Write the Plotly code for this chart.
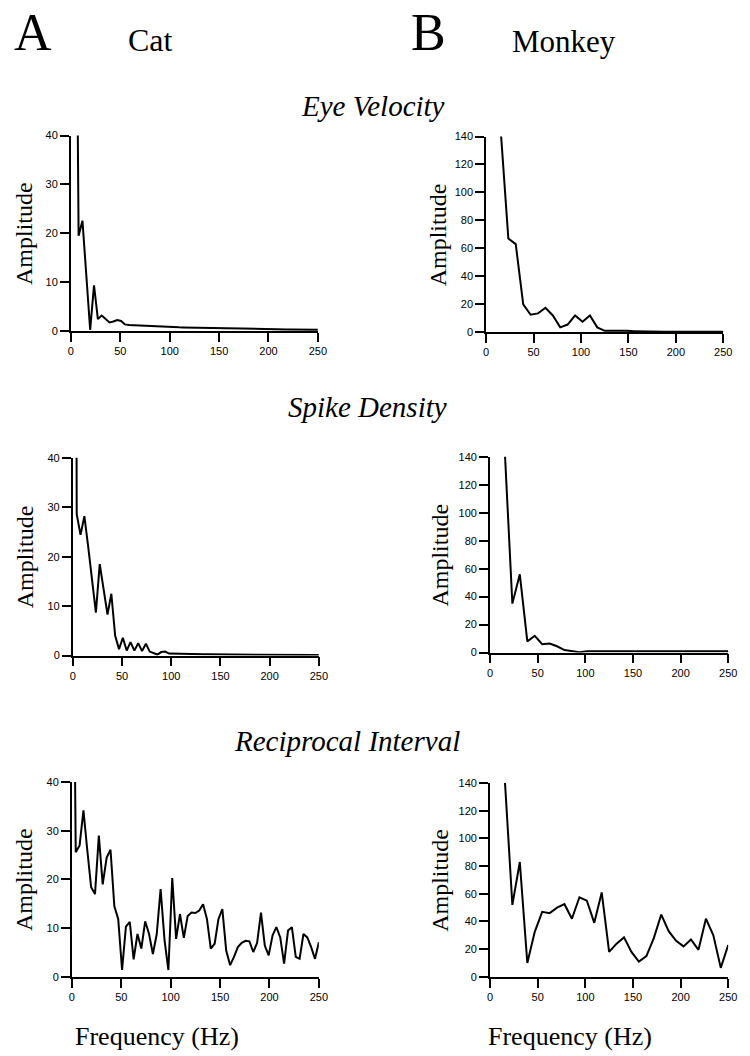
import plotly.graph_objects as go

W, H = 750, 1056

# ---------------- data ----------------
CAT_FREQ = [0.0, 3.9, 7.8, 11.7, 15.6, 19.5, 23.4, 27.3, 31.2, 35.2, 39.1, 43.0, 46.9, 50.8,
            54.7, 58.6, 62.5, 66.4, 70.3, 74.2, 78.1, 82.0, 85.9, 89.8, 93.8, 97.7, 101.6,
            105.5, 109.4, 113.3, 117.2, 121.1, 125.0, 128.9, 132.8, 136.7, 140.6, 144.5,
            148.4, 152.3, 156.2, 160.2, 164.1, 168.0, 171.9, 175.8, 179.7, 183.6, 187.5,
            191.4, 195.3, 199.2, 203.1, 207.0, 210.9, 214.8, 218.8, 222.7, 226.6, 230.5,
            234.4, 238.3, 242.2, 246.1, 250.0]

# cat eye velocity starts at the 3.9 Hz bin
cat_eye_velocity = [120, 19.5, 22.6, 11, 0.3, 9.4, 2.5, 3.2, 2.4, 1.8,
                    2.0, 2.3, 2.1, 1.4, 1.3, 1.25, 1.2, 1.15, 1.1, 1.05,
                    1.0, 0.97, 0.94, 0.91, 0.88, 0.85, 0.82, 0.8, 0.78, 0.76,
                    0.74, 0.72, 0.7, 0.68, 0.66, 0.64, 0.62, 0.6, 0.58, 0.56,
                    0.55, 0.53, 0.52, 0.5, 0.49, 0.48, 0.47, 0.46, 0.45, 0.44,
                    0.43, 0.42, 0.41, 0.4, 0.39, 0.38, 0.37, 0.36, 0.35, 0.34,
                    0.33, 0.32, 0.31, 0.3]

cat_spike_density = [400,
                     28.6, 24.4, 28.2, 22, 15, 8.7, 18.5, 13.5, 8.3, 12.5,
                     4, 1.3, 3.6, 1.0, 2.7, 1.0, 2.5, 0.9, 2.4, 0.8,
                     0.5, 0.2, 0.7, 0.8, 0.4, 0.4, 0.35, 0.33, 0.32, 0.3,
                     0.28, 0.27, 0.26, 0.25, 0.24, 0.23, 0.22, 0.21, 0.2, 0.2,
                     0.19, 0.18, 0.18, 0.17, 0.16, 0.16, 0.15, 0.15, 0.14, 0.14,
                     0.13, 0.13, 0.12, 0.12, 0.12, 0.11, 0.11, 0.1, 0.1, 0.1,
                     0.1, 0.1, 0.1, 0.1]

cat_reciprocal_interval = [116,
                           25.6, 27, 34.2, 26, 18.4, 17, 29, 19, 24.5, 26.1,
                           14.5, 11.9, 1.4, 10.3, 11.3, 3.6, 8.8, 5.8, 11.4, 8.8,
                           4.7, 8.8, 18, 7.5, 1.4, 20.3, 7.8, 12.9, 8, 12.5,
                           13.2, 13.1, 13.6, 14.9, 11.9, 5.8, 6.8, 11.9, 13.9, 5.4,
                           2.4, 4.1, 6.1, 7.0, 7.4, 7.3, 5.1, 7, 13.2, 6.4,
                           4.4, 8.5, 10.2, 8.1, 2.7, 9.5, 10.2, 4.1, 3.7, 8.8,
                           8.1, 6.1, 3.7, 7.1]

MONKEY_FREQ = [15.6, 23.4, 31.2, 39.1, 46.9, 54.7, 62.5, 70.3, 78.1, 85.9, 93.8, 101.6,
               109.4, 117.2, 125.0, 132.8, 140.6, 148.4, 156.2, 164.1, 171.9, 179.7,
               187.5, 195.3, 203.1, 210.9, 218.8, 226.6, 234.4, 242.2, 250.0]

monkey_eye_velocity = [142, 67, 63, 20, 12.5, 13.5, 17.5, 12, 3.5, 5.5,
                       12, 7.5, 12, 3.5, 1.0, 1.0, 1.5, 1.0, 0.8, 0.6,
                       0.5, 0.5, 0.4, 0.4, 0.4, 0.3, 0.3, 0.3, 0.3, 0.3, 0.3]

monkey_spike_density = [142, 35, 56, 8, 12, 6, 6.5, 4.5, 1.8, 0.8,
                        0.3, 1.0, 1.0, 1.0, 1.0, 1.0, 1.0, 1.0, 1.0, 0.9,
                        0.8, 0.6, 0.5, 0.6, 0.8, 0.9, 1.0, 1.0, 1.0, 1.0, 1.0]

monkey_reciprocal_interval = [141, 52, 83, 10, 32.5, 47, 46, 50, 52.5, 42,
                              57.5, 55, 39, 61, 18, 24, 28.5, 18, 11, 15,
                              28, 45, 33, 26, 22, 27, 19.5, 42, 30, 6.5, 23]

X_TICKS = [0, 50, 100, 150, 200, 250]
CAT_Y_TICKS = [0, 10, 20, 30, 40]
MONKEY_Y_TICKS = [0, 20, 40, 60, 80, 100, 120, 140]

ROW_TITLES = ["Eye Velocity", "Spike Density", "Reciprocal Interval"]

# ---------------- layout geometry (pixels) ----------------
# (x_left, x_right, y_top, y_bottom) of each plotting area
panels = [
    dict(x=CAT_FREQ[1:], y=cat_eye_velocity, box=(69, 320, 131, 329), ymax=40, yt=CAT_Y_TICKS),
    dict(x=MONKEY_FREQ, y=monkey_eye_velocity, box=(491, 732, 132, 330), ymax=140, yt=MONKEY_Y_TICKS),
    dict(x=CAT_FREQ, y=cat_spike_density, box=(71, 321, 457, 657), ymax=40, yt=CAT_Y_TICKS),
    dict(x=MONKEY_FREQ, y=monkey_spike_density, box=(495, 737, 456, 654), ymax=140, yt=MONKEY_Y_TICKS),
    dict(x=CAT_FREQ, y=cat_reciprocal_interval, box=(70, 321, 785, 982), ymax=40, yt=CAT_Y_TICKS),
    dict(x=MONKEY_FREQ, y=monkey_reciprocal_interval, box=(495, 737, 786, 982), ymax=140, yt=MONKEY_Y_TICKS),
]

fig = go.Figure()
layout = dict(width=W, height=H, margin=dict(l=0, r=0, t=0, b=0),
              paper_bgcolor="white", plot_bgcolor="white", showlegend=False)

tickfont = dict(family="Liberation Sans, Arial, sans-serif", size=11, color="black")

for i, p in enumerate(panels, start=1):
    x0, x1, yt_, yb_ = p["box"]
    sfx = "" if i == 1 else str(i)
    fig.add_trace(go.Scatter(x=p["x"], y=p["y"], mode="lines",
                             line=dict(color="black", width=2),
                             xaxis="x" + sfx, yaxis="y" + sfx, hoverinfo="skip"))
    layout["xaxis" + sfx] = dict(domain=[x0 / W, x1 / W], range=[0, 250], anchor="y" + sfx,
                                 tickvals=X_TICKS, ticks="outside", ticklen=9, tickwidth=1.5,
                                 tickcolor="black", showline=True, linecolor="black", linewidth=1.8,
                                 showgrid=False, zeroline=False, tickfont=tickfont, fixedrange=True)
    layout["yaxis" + sfx] = dict(domain=[1 - yb_ / H, 1 - yt_ / H], range=[0, p["ymax"]],
                                 anchor="x" + sfx, tickvals=p["yt"], ticks="outside", ticklen=9,
                                 tickwidth=1.5, tickcolor="black", showline=True, linecolor="black",
                                 linewidth=1.8, showgrid=False, zeroline=False, tickfont=tickfont,
                                 fixedrange=True)

serif = "Liberation Serif, Times New Roman, serif"
ann = []


def add(text, px, py, size, italic=False, angle=0, xanchor="center"):
    t = "<i>%s</i>" % text if italic else text
    ann.append(dict(text=t, x=px / W, y=1 - py / H, xref="paper", yref="paper",
                    xanchor=xanchor, yanchor="middle", showarrow=False, textangle=angle,
                    font=dict(family=serif, size=size, color="black")))


add("A", 30, 27, 52)
add("Cat", 150, 34, 32)
add("B", 432, 27, 52)
add("Monkey", 570, 36, 31)

add(ROW_TITLES[0], 376, 101, 29, italic=True)
add(ROW_TITLES[1], 370, 406, 29, italic=True)
add(ROW_TITLES[2], 350, 743, 29, italic=True)

for p, lx in zip(panels, [22, 442, 22, 444, 22, 444]):
    x0, x1, yt_, yb_ = p["box"]
    add("Amplitude", lx, (yt_ + yb_) / 2, 24, angle=-90)

add("Frequency (Hz)", 156, 1042, 26)
add("Frequency (Hz)", 576, 1042, 26)

layout["annotations"] = ann
fig.update_layout(**layout)
fig.write_html("out.html")
